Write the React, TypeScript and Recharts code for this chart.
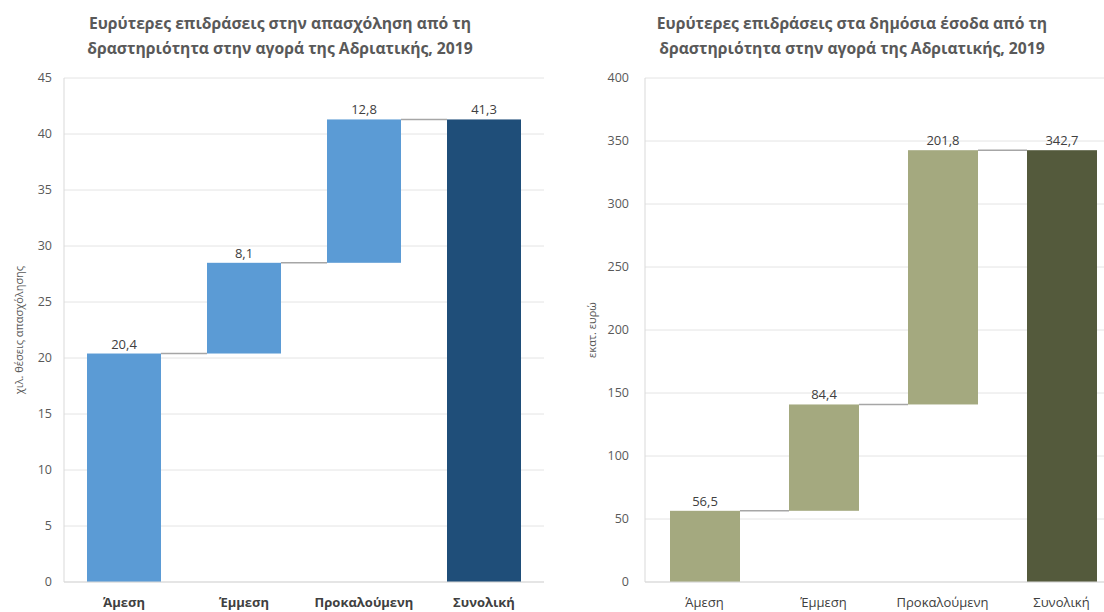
import React from "react";
import {
  Bar,
  BarChart,
  CartesianGrid,
  LabelList,
  XAxis,
  YAxis,
} from "recharts";

const categories = ["Άμεση", "Έμμεση", "Προκαλούμενη", "Συνολική"];

// χιλ. θέσεις απασχόλησης
const jobsValues = [20.4, 8.1, 12.8, 41.3];
const jobsTicks = [0, 5, 10, 15, 20, 25, 30, 35, 40, 45];

// εκατ. ευρώ
const revenueValues = [56.5, 84.4, 201.8, 342.7];
const revenueTicks = [0, 50, 100, 150, 200, 250, 300, 350, 400];

const FONT = "'Open Sans', 'Noto Sans', sans-serif";

type Row = {
  name: string;
  base: number;
  value: number;
  total: boolean;
  link: boolean;
};

// waterfall rows: each step sits on the running sum, last one is the total
function buildRows(values: number[]): Row[] {
  let running = 0;
  return values.map((v, i) => {
    const total = i === values.length - 1;
    const row = {
      name: categories[i],
      base: total ? 0 : running,
      value: v,
      total,
      link: !total,
    };
    if (!total) running += v;
    return row;
  });
}

const fmt = (v: unknown) => Number(v).toFixed(1).replace(".", ",");

type WaterfallProps = {
  title: string[];
  yLabel: string;
  values: number[];
  ticks: number[];
  color: string;
  totalColor: string;
  left: number;
  plotLeft: number;
  plotWidth: number;
  barSize: number;
  boldCategories: boolean;
  titleCenter: number;
  yLabelX: number;
};

function Waterfall(p: WaterfallProps) {
  const rows = buildRows(p.values);
  const width = 560;
  const height = 612;
  const yAxisWidth = 50;
  const step = p.plotWidth / rows.length;

  // bar + thin connector to the next bar's left edge
  const StepShape = (props: any) => {
    const { x, y, width: w, height: h, payload } = props;
    const fill = payload.total ? p.totalColor : p.color;
    return (
      <g>
        <rect x={x} y={y} width={w} height={h} fill={fill} />
        {payload.link && (
          <line
            x1={x + w}
            x2={x + step}
            y1={y}
            y2={y}
            stroke="#a6a6a6"
            strokeWidth={1.5}
          />
        )}
      </g>
    );
  };

  return (
    <div style={{ position: "absolute", left: p.left, top: 0, width, height }}>
      <div
        style={{
          position: "absolute",
          top: 11,
          left: p.titleCenter - 260,
          width: 520,
          textAlign: "center",
          fontFamily: FONT,
          fontWeight: 700,
          fontSize: 15.7,
          lineHeight: "25px",
          color: "#595959",
        }}
      >
        {p.title.map((t) => (
          <div key={t}>{t}</div>
        ))}
      </div>
      <BarChart
        width={width}
        height={height}
        data={rows}
        margin={{
          top: 78,
          right: width - p.plotLeft - p.plotWidth,
          bottom: 0,
          left: p.plotLeft - yAxisWidth,
        }}
        style={{ position: "absolute", left: 0, top: 0 }}
      >
        <CartesianGrid vertical={false} stroke="#e4e4e4" />
        <XAxis
          dataKey="name"
          height={30}
          tickLine={false}
          tickSize={0}
          tickMargin={16}
          axisLine={{ stroke: "#d9d9d9" }}
          tick={{
            fontSize: 13,
            fontFamily: FONT,
            fontWeight: p.boldCategories ? 700 : 400,
            fill: "#404040",
          }}
          interval={0}
        />
        <YAxis
          width={yAxisWidth}
          domain={[p.ticks[0], p.ticks[p.ticks.length - 1]]}
          ticks={p.ticks}
          interval={0}
          tickLine={false}
          tickSize={0}
          tickMargin={p.plotLeft > 70 ? 16 : 12}
          axisLine={{ stroke: "#d9d9d9" }}
          tick={{ fontSize: 12.5, fontFamily: FONT, fill: "#595959" }}
          label={{
            value: p.yLabel,
            angle: -90,
            position: "insideLeft",
            dx: p.yLabelX,
            style: {
              textAnchor: "middle",
              fontSize: 11,
              fontFamily: FONT,
              fill: "#595959",
            },
          }}
        />
        <Bar
          dataKey="base"
          stackId="w"
          fill="transparent"
          barSize={p.barSize}
          isAnimationActive={false}
        />
        <Bar
          dataKey="value"
          stackId="w"
          barSize={p.barSize}
          shape={StepShape}
          isAnimationActive={false}
        >
          <LabelList
            dataKey="value"
            position="top"
            offset={5}
            formatter={fmt}
            style={{ fontSize: 13, fontFamily: FONT, fill: "#404040" }}
          />
        </Bar>
      </BarChart>
    </div>
  );
}

export default function App() {
  return (
    <div
      style={{
        position: "fixed",
        left: 0,
        top: 0,
        width: 1104,
        height: 612,
        overflow: "hidden",
        background: "#ffffff",
      }}
    >
      <Waterfall
        title={[
          "Ευρύτερες επιδράσεις στην απασχόληση από τη",
          "δραστηριότητα στην αγορά της Αδριατικής, 2019",
        ]}
        yLabel="χιλ. θέσεις απασχόλησης"
        values={jobsValues}
        ticks={jobsTicks}
        color="#5b9bd5"
        totalColor="#1f4e79"
        left={0}
        plotLeft={64}
        plotWidth={480}
        barSize={74}
        boldCategories
        titleCenter={280}
        yLabelX={0}
      />
      <Waterfall
        title={[
          "Ευρύτερες επιδράσεις στα δημόσια έσοδα από τη",
          "δραστηριότητα στην αγορά της Αδριατικής, 2019",
        ]}
        yLabel="εκατ. ευρώ"
        values={revenueValues}
        ticks={revenueTicks}
        color="#a4a97f"
        totalColor="#545a3c"
        left={560}
        plotLeft={85}
        plotWidth={476}
        barSize={70}
        boldCategories={false}
        titleCenter={292}
        yLabelX={-8}
      />
    </div>
  );
}
